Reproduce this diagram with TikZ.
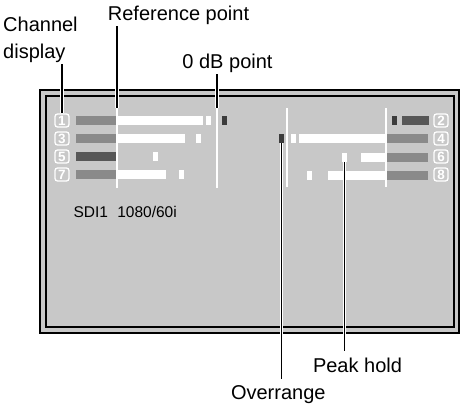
\documentclass[tikz,border=0pt]{standalone}
\usepackage{fontspec}
\setmainfont{Liberation Sans}
\definecolor{screen}{HTML}{C8C8C8}
\definecolor{meter}{HTML}{8A8A8A}
\definecolor{meterdk}{HTML}{575757}
\definecolor{overdk}{HTML}{3C3C3C}

\begin{document}
\begin{tikzpicture}[x=1pt, y=-1pt,
        lbl/.style={font=\fontsize{20}{27}\selectfont, inner sep=1pt},
        leader/.style={line width=1.3pt, preaction={draw, white, line width=3.5pt}},
        chno/.style={draw=white, line width=1.3pt, rounded corners=2.5pt, minimum width=14pt,
            minimum height=13pt, inner sep=0pt, text=white, font=\fontsize{13.5}{13.5}\selectfont\bfseries},
        refline/.style={white, line width=1.5pt}]
        \useasboundingbox (0,0) rectangle (460,406);

        \draw[line width=2pt, fill=screen] (39.5,90.5) rectangle (458.5,332.5);
        \draw[line width=2pt] (45.5,96.5) rectangle (454,326.5);

        \fill[meter]   (76,116) rectangle (117,125);
        \fill[white]   (117,116) rectangle (203,125);
        \fill[white]   (206,116) rectangle (211,125);
        \fill[overdk]  (222,116) rectangle (227,125);
        \fill[meter]   (76,134) rectangle (117,143);
        \fill[white]   (117,134) rectangle (185,143);
        \fill[white]   (196,134) rectangle (201,143);
        \fill[meterdk] (76,152) rectangle (117,161);
        \fill[white]   (153,152) rectangle (158,161);
        \fill[meter]   (76,170) rectangle (117,179);
        \fill[white]   (117,170) rectangle (166,179);
        \fill[white]   (179,170) rectangle (184,179);

        \fill[meterdk] (402,116) rectangle (429,125);
        \fill[overdk]  (392,116) rectangle (397,125);
        \fill[meter]   (386,134) rectangle (428,143);
        \fill[white]   (299,134) rectangle (386,143);
        \fill[white]   (291,134) rectangle (296,143);
        \fill[overdk]  (279,134) rectangle (284,143);
        \fill[meter]   (386,153) rectangle (428,162);
        \fill[white]   (361,153) rectangle (386,162);
        \fill[white]   (342,153) rectangle (347,162);
        \fill[meter]   (386,171) rectangle (428,180);
        \fill[white]   (328,171) rectangle (386,180);
        \fill[white]   (307,171) rectangle (312,180);

        \draw[refline] (117,108) -- (117,188);
        \draw[refline] (217,108) -- (217,188);
        \draw[refline] (287,108) -- (287,187);
        \draw[refline] (386,108) -- (386,187);

        \node[chno] at (62,120.5)  (c1) {1};
        \node[chno] at (62,138.5)  (c3) {3};
        \node[chno] at (62,156.5)  (c5) {5};
        \node[chno] at (62,174.5)  (c7) {7};
        \node[chno] at (441,120.5) (c2) {2};
        \node[chno] at (441,138.5) (c4) {4};
        \node[chno] at (441,156.5) (c6) {6};
        \node[chno] at (441,174.5) (c8) {8};

        \node[font=\fontsize{15.5}{15.5}\selectfont, anchor=base west] at (70,217) (sdi) {SDI1\hspace{0.6em}1080/60i};

        \node[lbl, align=left, anchor=west] at (2,40.3) (chan)   {Channel\\display};
        \node[lbl, anchor=base] at (178.5,20.7)        (refpt)  {Reference point};
        \node[lbl, anchor=base] at (227.5,69)          (zerodb) {0 dB point};
        \node[lbl, anchor=base] at (357.5,372)         (peak)   {Peak hold};
        \node[lbl, anchor=base] at (278.3,399)         (over)   {Overrange};

        \coordinate (reftop)  at (117,108);
        \coordinate (zerotop) at (217,108);
        \coordinate (ovtop)   at (281.5,143.5);
        \coordinate (pktop)   at (344.5,162);

        \draw[leader] (c1.north |- chan.south) -- (c1.north);
        \draw[leader] (reftop |- refpt.south) -- (reftop);
        \draw[leader] (zerotop |- zerodb.south) -- (zerotop);
        \draw[leader, shorten >=5pt] (ovtop) -- (ovtop |- over.north);
        \draw[leader, shorten >=5pt] (pktop) -- (pktop |- peak.north);
    \end{tikzpicture}
\end{document}
